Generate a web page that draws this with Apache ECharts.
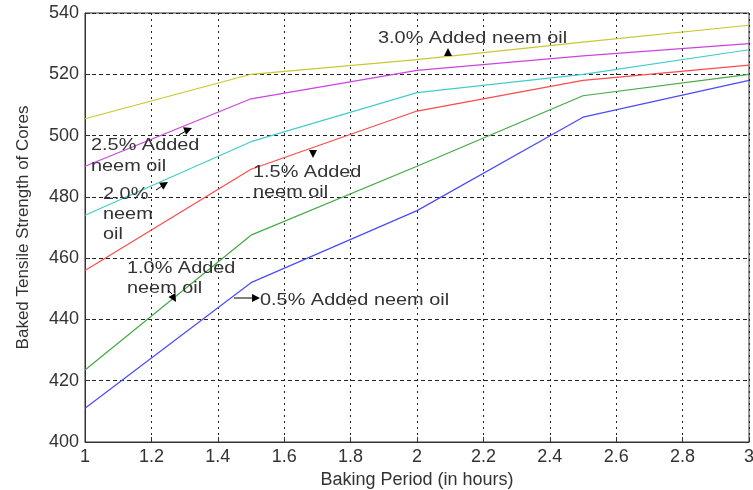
<!DOCTYPE html>
<html><head><meta charset="utf-8">
<script src="https://cdn.jsdelivr.net/npm/echarts@6/dist/echarts.min.js"></script>
<style>html,body{margin:0;padding:0;background:#fff}#c{width:753px;height:490px}</style>
</head><body><div id="c"></div>
<script>
var hours = [1, 1.5, 2, 2.5, 3];
var oil05 = [411, 452, 475.5, 506, 518];
var oil10 = [423.5, 467.5, 490, 513, 520];
var oil15 = [456, 489, 508, 518, 523];
var oil20 = [474, 498, 514, 520, 528];
var oil25 = [490, 512, 521.3, 526, 530];
var oil30 = [505.5, 520, 524.8, 530.5, 536];
var seriesNames = ['0.5%', '1.0%', '1.5%', '2.0%', '2.5%', '3.0%'];
var colors = ['#4a4aff', '#44aa44', '#ff4a4a', '#44cccc', '#cc44dd', '#c8c832'];

function pts(v){ return hours.map(function(h,i){ return [h, v[i]]; }); }
var all = [oil05, oil10, oil15, oil20, oil25, oil30];
var font = 'Liberation Sans, Arial, sans-serif';
var chart = echarts.init(document.getElementById('c'));
function tri(tx, ty, ang){
  var s = 8, w = 4;
  var a = ang*Math.PI/180;
  var dx = Math.cos(a), dy = -Math.sin(a);
  var bx = tx - s*dx, by = ty - s*dy;
  var px = -dy, py = dx;
  return {type:'polygon', shape:{points:[[tx,ty],[bx+px*w, by+py*w],[bx-px*w, by-py*w]]}, style:{fill:'#000'}, z:10};
}
function shaft(x1,y1,x2,y2){
  return {type:'line', shape:{x1:x1,y1:y1,x2:x2,y2:y2}, style:{stroke:'#000', lineWidth:1}, z:10};
}
function txt(x, y, t){
  return {type:'text', x:x, y:y, scaleX:1.17, style:{text:t, font:'17px '+font, fill:'#333', textVerticalAlign:'middle'}, z:10};
}
chart.setOption({
  animation:false,
  backgroundColor:'#fff',
  grid:{left:85, right:4, top:13, bottom:48, show:true, borderColor:'#333', borderWidth:1, containLabel:false, outerBoundsMode:'none'},
  xAxis:{type:'value', min:1, max:3, interval:0.2,
    axisLine:{show:true, lineStyle:{color:'#333'}},
    axisTick:{show:true, inside:true, length:5, lineStyle:{color:'#333'}},
    axisLabel:{color:'#333', fontSize:18, fontFamily:font, margin:6, formatter:function(v){return String(Math.round(v*10)/10);}},
    splitLine:{show:true, lineStyle:{color:'#222', type:[2,4], width:1}},
    name:'Baking Period (in hours)', nameLocation:'middle', nameGap:27,
    nameTextStyle:{color:'#333', fontSize:18, fontFamily:font}},
  yAxis:{type:'value', min:400, max:540, interval:20,
    axisLine:{show:true, lineStyle:{color:'#333'}},
    axisTick:{show:true, inside:true, length:5, lineStyle:{color:'#333'}},
    axisLabel:{color:'#333', fontSize:18, fontFamily:font, margin:6},
    splitLine:{show:true, lineStyle:{color:'#222', type:[4,3], width:1}},
    name:'Baked Tensile Strength of Cores', nameLocation:'middle', nameGap:53,
    nameTextStyle:{color:'#333', fontSize:17, fontFamily:font}},
  series: all.map(function(v,i){
    return {name:seriesNames[i], type:'line', data:pts(v), symbol:'none',
      lineStyle:{color:colors[i], width:1.2}, itemStyle:{color:colors[i]}};
  }),
  graphic:[
    txt(378, 38, '3.0% Added neem oil'), tri(448, 48, 90),
    txt(91, 145, '2.5% Added'), txt(91, 166, 'neem oil'),
    shaft(179, 135, 186, 131), tri(192, 128, 22),
    txt(103, 194, '2.0%'), txt(103, 214, 'neem'), txt(103, 234, 'oil'),
    shaft(156, 190, 162, 186), tri(168, 182, 32),
    txt(253, 172, '1.5% Added'), txt(253, 192, 'neem oil'),
    tri(313, 158, -90),
    txt(127, 268, '1.0% Added'), txt(127, 288, 'neem oil'),
    shaft(168, 290, 172, 294), tri(176, 302, -60),
    txt(260, 300, '0.5% Added neem oil'),
    shaft(234, 298, 252, 298), tri(260, 298, 0)
  ]
});
</script></body></html>
